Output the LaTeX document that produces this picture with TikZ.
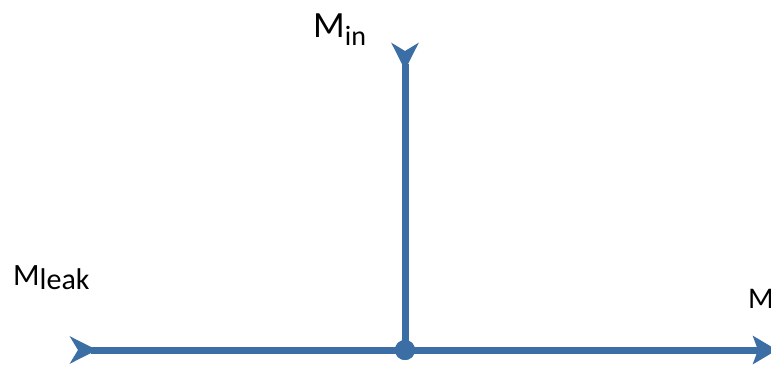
\documentclass[tikz,border=0pt]{standalone}
\usepackage{fontspec}
\setmainfont{Carlito}
\usepackage{tikz}
\usetikzlibrary{arrows.meta}
\definecolor{flowblue}{HTML}{3A6EA5}

\begin{document}
\begin{tikzpicture}[
    x=1pt, y=-1pt,
    flow/.style={draw=flowblue, line width=7pt},
    tipin/.tip={Stealth[length=27pt, width=27pt, inset=8pt, reversed]},
    tipout/.tip={Stealth[length=24pt, width=28pt, inset=5pt]},
    lbl/.style={anchor=base west, inner sep=0pt, text=black}
]
\useasboundingbox (0,0) rectangle (771,365);
\coordinate (leakstart) at (70,350);
\coordinate (instart) at (405,43);
\coordinate (outend) at (777,350);
\node[circle, fill=flowblue, minimum size=20pt, inner sep=0pt] (junction) at (405,350) {};
\draw[flow, tipin-] (leakstart) -- (junction.center);
\draw[flow, tipin-] (instart) -- (junction.center);
\draw[flow, -tipout] (junction.center) -- (outend);
\node[circle, fill=flowblue, minimum size=20pt, inner sep=0pt] at (junction) {};
% labels
\node[lbl] (labin) at (313,37) {\fontsize{37}{44}\selectfont M\raisebox{-8pt}{\fontsize{28}{32}\selectfont in}};
\node[lbl] (lableak) at (13,285) {\fontsize{31}{36}\selectfont M\raisebox{-4pt}{\fontsize{30}{34}\selectfont leak}};
\node[lbl] (labout) at (748,308) {\fontsize{30}{36}\selectfont M};
\end{tikzpicture}
\end{document}
